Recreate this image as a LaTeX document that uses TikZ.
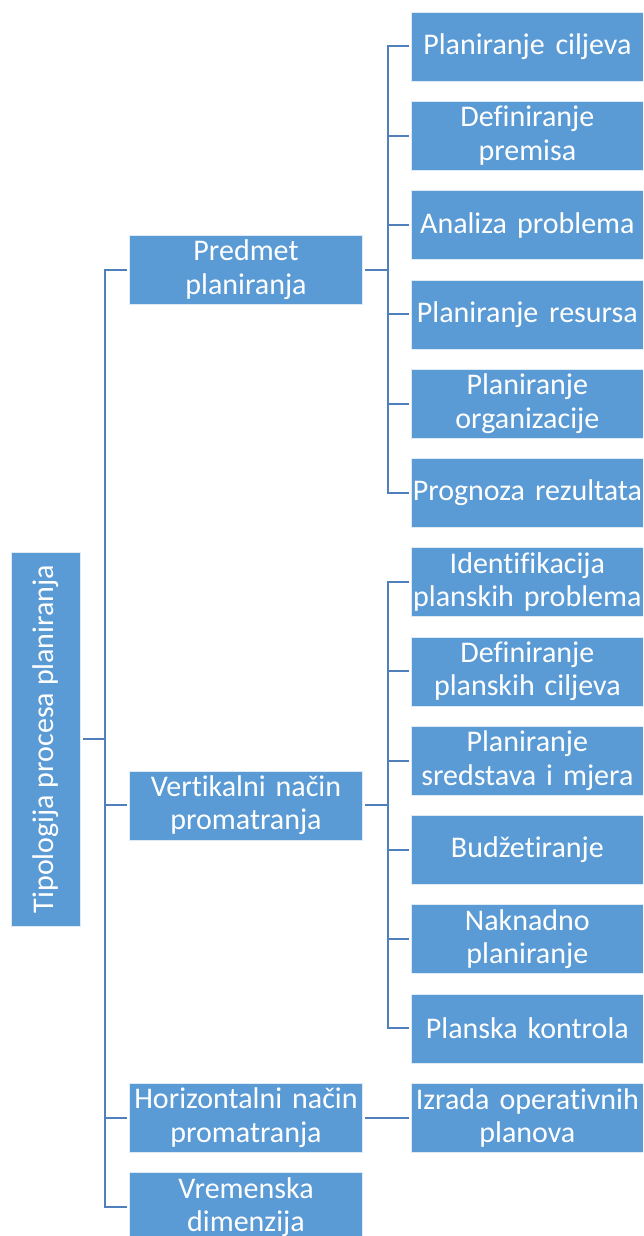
\documentclass[tikz,border=0pt]{standalone}
\usepackage{fontspec}
\setmainfont{Carlito}[Ligatures=NoCommon]
\definecolor{boxblue}{RGB}{91,155,213}
\definecolor{linkblue}{RGB}{80,128,188}
\begin{document}
\begin{tikzpicture}[x=1pt,y=-1pt,
  box/.style={fill=boxblue, draw=white!80!boxblue, line width=0.6pt, text=white,
    inner sep=0pt, align=center, font=\fontsize{30}{33.5}\selectfont, minimum height=69pt},
  lvone/.style={box, text width=233.4pt},
  lvtwo/.style={box, text width=231.3pt},
  link/.style={draw=linkblue, line width=2pt}]
\useasboundingbox (0,0) rectangle (643,1236);
\clip (0,0) rectangle (643,1236);
% root
\node[box, rotate=90, minimum width=374pt] (root) at (46,738.9) {Tipologija procesa planiranja};
% level 1
\node[lvone] (p1) at (246,269.7) {Predmet\\planiranja};
\node[lvone] (p2) at (246,805.3) {Vertikalni način\\promatranja};
\node[lvone] (p3) at (246,1117.74) {Horizontalni način\\promatranja};
\node[lvone] (p4) at (246,1207.2) {Vremenska\\dimenzija};
% level 2
\node[lvtwo] (a1) at (527.35,46.5) {Planiranje\hspace{0.36em}ciljeva};
\node[lvtwo] (a2) at (527.35,135.77) {Definiranje\\premisa};
\node[lvtwo] (a3) at (527.35,225.04) {Analiza problema};
\node[lvtwo] (a4) at (527.35,314.31) {Planiranje\hspace{0.36em}resursa};
\node[lvtwo] (a5) at (527.35,403.58) {Planiranje\\organizacije};
\node[lvtwo] (a6) at (527.35,492.85) {Prognoza rezultata};
\node[lvtwo] (b1) at (527.35,582.12) {Identifikacija\\planskih problema};
\node[lvtwo] (b2) at (527.35,671.39) {Definiranje\\planskih ciljeva};
\node[lvtwo] (b3) at (527.35,760.66) {Planiranje\\sredstava i mjera};
\node[lvtwo] (b4) at (527.35,849.93) {Budžetiranje};
\node[lvtwo] (b5) at (527.35,939.2) {Naknadno\\planiranje};
\node[lvtwo] (b6) at (527.35,1028.47) {Planska kontrola};
\node[lvtwo] (c1) at (527.35,1117.74) {Izrada operativnih\\planova};
% spine x positions
\coordinate (s0) at (105,0);
\coordinate (s1) at (387.7,0);
% root spine
\draw[link] ([xshift=2pt]root.south) -- (root.south -| s0);
\draw[link] ([xshift=-2pt]p1.west) -| (p4.west -| s0) -- ([xshift=-2pt]p4.west);
\foreach \n in {p2,p3} \draw[link] (\n.west -| s0) -- ([xshift=-2pt]\n.west);
% Predmet spine
\draw[link] ([xshift=2pt]p1.east) -- (p1.east -| s1);
\draw[link] ([xshift=-2pt]a1.west) -| (a6.west -| s1) -- ([xshift=-2pt]a6.west);
\foreach \n in {a2,a3,a4,a5} \draw[link] (\n.west -| s1) -- ([xshift=-2pt]\n.west);
% Vertikalni spine
\draw[link] ([xshift=2pt]p2.east) -- (p2.east -| s1);
\draw[link] ([xshift=-2pt]b1.west) -| (b6.west -| s1) -- ([xshift=-2pt]b6.west);
\foreach \n in {b2,b3,b4,b5} \draw[link] (\n.west -| s1) -- ([xshift=-2pt]\n.west);
% Horizontalni
\draw[link] ([xshift=2pt]p3.east) -- ([xshift=-2pt]c1.west);
\end{tikzpicture}
\end{document}
